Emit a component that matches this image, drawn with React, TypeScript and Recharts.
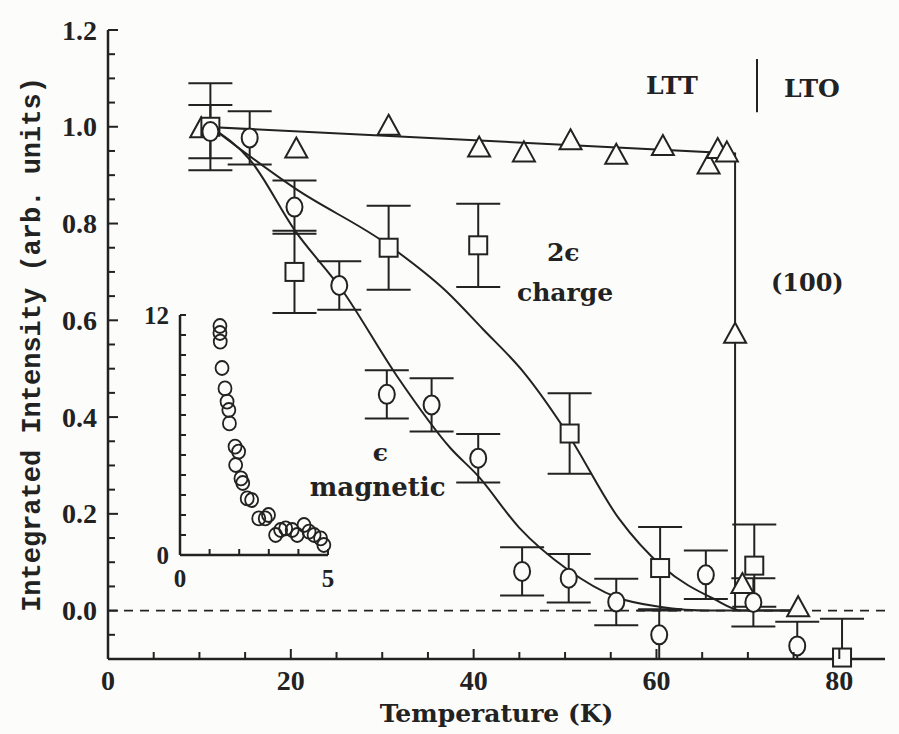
import React from 'react'
import {
  ComposedChart,
  ScatterChart,
  Scatter,
  Line,
  XAxis,
  YAxis,
  ErrorBar,
  ReferenceLine,
  ReferenceDot,
} from 'recharts'

const INK = '#222'
const BG = '#fcfcfb'

// (100) lattice peak - triangles
const latticeT = [10.2, 20.6, 30.7, 40.6, 45.5, 50.6, 55.6, 60.7, 65.7, 66.7, 67.7, 68.6, 69.4, 75.5]
const latticeI = [0.995, 0.953, 1.0, 0.955, 0.945, 0.97, 0.94, 0.958, 0.92, 0.952, 0.945, 0.57, 0.053, 0.005]

// 2e charge peak - squares
const chargeT = [11.2, 20.4, 30.7, 40.5, 50.5, 60.4, 70.7, 80.3]
const chargeI = [1.0, 0.7, 0.75, 0.755, 0.366, 0.088, 0.093, -0.097]
const chargeLo = [0.09, 0.085, 0.087, 0.086, 0.083, 0.085, 0.085, 0.003]
const chargeHi = [0.09, 0.085, 0.087, 0.086, 0.083, 0.085, 0.085, 0.08]

// e magnetic peak - circles
const magT = [11.2, 15.5, 20.4, 25.3, 30.5, 35.4, 40.5, 45.3, 50.4, 55.6, 60.3, 65.4, 70.6, 75.4]
const magI = [0.99, 0.977, 0.834, 0.672, 0.447, 0.425, 0.315, 0.081, 0.067, 0.018, -0.05, 0.074, 0.017, -0.073]
const magLo = [0.055, 0.055, 0.055, 0.05, 0.05, 0.055, 0.05, 0.05, 0.05, 0.048, 0.05, 0.05, 0.05, 0.027]
const magHi = [0.055, 0.055, 0.055, 0.05, 0.05, 0.055, 0.05, 0.05, 0.05, 0.048, 0.05, 0.05, 0.05, 0.05]

// fitted curves
const latticeFitT = [10.5, 68.6, 68.6]
const latticeFitI = [1.0, 0.945, 0.0]
const chargeFitT = [11.2, 20.5, 30.7, 37.0, 41.0, 45.5, 50.3, 55.9, 60.7, 66.2, 69.4, 75]
const chargeFitI = [1.0, 0.872, 0.755, 0.66, 0.582, 0.492, 0.365, 0.19, 0.09, 0.025, 0.0, 0.0]
const magFitT = [11.2, 15.6, 20.4, 25.7, 31.6, 37.5, 40.5, 45.0, 50.2, 55.7, 60.3, 66, 75]
const magFitI = [1.0, 0.93, 0.787, 0.66, 0.485, 0.335, 0.278, 0.171, 0.086, 0.027, 0.008, 0.0, 0.0]

// inset
const insetU = [1.35, 1.35, 1.36, 1.42, 1.52, 1.59, 1.65, 1.67, 1.86, 1.98, 1.88, 2.06, 2.12, 2.27, 2.42, 2.66, 2.88, 2.99, 3.23, 3.4, 3.57, 3.79, 3.96, 4.19, 4.36, 4.53, 4.75, 4.86]
const insetV = [11.45, 11.1, 10.67, 9.35, 8.33, 7.67, 7.25, 6.58, 5.42, 5.17, 4.5, 3.83, 3.6, 2.83, 2.75, 1.83, 1.83, 2.0, 1.0, 1.25, 1.33, 1.25, 1.0, 1.5, 1.17, 1.0, 0.83, 0.5]

const xTicks = [0, 5, 10, 15, 20, 25, 30, 35, 40, 45, 50, 55, 60, 65, 70, 75, 80]
const yTicks = [-0.1, -0.05, 0, 0.05, 0.1, 0.15, 0.2, 0.25, 0.3, 0.35, 0.4, 0.45, 0.5, 0.55, 0.6, 0.65, 0.7, 0.75, 0.8, 0.85, 0.9, 0.95, 1.0, 1.05, 1.1, 1.15, 1.2]
const insetXTicks = [0, 1, 2, 3, 4, 5]
const insetYTicks = [0, 1, 2, 3, 4, 5, 6, 7, 8, 9, 10, 11, 12]

const zip = (xs: number[], ys: number[]) => xs.map((x, i) => ({ x, y: ys[i] }))
const latticeRows = zip(latticeT, latticeI)
const chargeRows = chargeT.map((x, i) => ({ x, y: chargeI[i], err: [chargeLo[i], chargeHi[i]] }))
const magRows = magT.map((x, i) => ({ x, y: magI[i], err: [magLo[i], magHi[i]] }))
const insetRows = zip(insetU, insetV)

const tickFont = { fontFamily: 'Liberation Serif', fontWeight: 'bold' as const, fill: INK }
const noteFont = { fontFamily: 'DejaVu Serif', fontWeight: 'bold' as const, fill: INK }

const isMajorY = (v: number) => Math.abs(v * 5 - Math.round(v * 5)) < 1e-6

function Tick(props: any) {
  const { x, y, payload, side, inset } = props
  const v = payload.value
  const major = side === 'bottom' || side === 'top' ? v % 20 === 0 : isMajorY(v)
  const len = inset ? 6 : major ? 10 : 7
  let line = null
  let label = null
  if (side === 'bottom') {
    line = <line x1={x} y1={y} x2={x} y2={y - len} stroke={INK} strokeWidth={2} />
    const show = inset ? v === 0 || v === 5 : major
    if (show)
      label = (
        <text x={x} y={y + (inset ? 23 : 21)} textAnchor="middle" dominantBaseline="central" fontSize={inset ? 25 : 28} {...tickFont}>
          {v}
        </text>
      )
  } else if (side === 'top') {
    line = <line x1={x} y1={y} x2={x} y2={y + len} stroke={INK} strokeWidth={2} />
  } else if (side === 'left') {
    line = <line x1={x} y1={y} x2={x + len} y2={y} stroke={INK} strokeWidth={2} />
    const show = inset ? v === 0 || v === 12 : major
    if (show)
      label = (
        <text x={x - 11} y={y} textAnchor="end" dominantBaseline="central" fontSize={inset ? 25 : 28} {...tickFont}>
          {inset ? v : v.toFixed(1)}
        </text>
      )
  } else {
    line = <line x1={x} y1={y} x2={x - len} y2={y} stroke={INK} strokeWidth={2} />
  }
  return (
    <g>
      {line}
      {label}
    </g>
  )
}

const NoMark = () => null
const TriangleMark = (p: any) =>
  p.cx == null ? null : (
    <path
      d={`M${p.cx},${p.cy - 12} L${p.cx + 11},${p.cy + 8} L${p.cx - 11},${p.cy + 8} Z`}
      fill={BG}
      stroke={INK}
      strokeWidth={2}
    />
  )
const SquareMark = (p: any) =>
  p.cx == null ? null : (
    <rect x={p.cx - 9} y={p.cy - 9} width={18} height={18} fill={BG} stroke={INK} strokeWidth={2} />
  )
const CircleMark = (p: any) =>
  p.cx == null ? null : <ellipse cx={p.cx} cy={p.cy} rx={8} ry={9.5} fill={BG} stroke={INK} strokeWidth={2} />
const SmallCircle = (p: any) =>
  p.cx == null ? null : <ellipse cx={p.cx} cy={p.cy} rx={6.5} ry={7} fill="none" stroke={INK} strokeWidth={1.8} />

export default function App() {
  return (
    <div style={{ position: 'absolute', left: 0, top: 0, width: 899, height: 734, background: BG }}>
      <ComposedChart width={899} height={734} margin={{ top: 30, right: 14, bottom: 30, left: 48 }}>
        <XAxis
          dataKey="x"
          type="number"
          domain={[0, 85]}
          ticks={xTicks}
          interval={0}
          height={45}
          tickSize={0}
          tickMargin={0}
          tickLine={false}
          axisLine={{ stroke: INK, strokeWidth: 2.5 }}
          tick={(p: any) => <Tick {...p} side="bottom" />}
          label={{ value: 'Temperature (K)', position: 'bottom', offset: 0, fontSize: 25, ...noteFont }}
        />
        <XAxis
          xAxisId="top"
          orientation="top"
          type="number"
          domain={[0, 85]}
          ticks={xTicks}
          interval={0}
          height={0}
          tickSize={0}
          tickMargin={0}
          tickLine={false}
          axisLine={{ stroke: INK, strokeWidth: 2.5 }}
          tick={(p: any) => <Tick {...p} side="top" />}
        />
        <YAxis
          dataKey="y"
          type="number"
          domain={[-0.1, 1.2]}
          ticks={yTicks}
          interval={0}
          width={60}
          tickSize={0}
          tickMargin={0}
          tickLine={false}
          axisLine={{ stroke: INK, strokeWidth: 2.5 }}
          tick={(p: any) => <Tick {...p} side="left" />}
          label={{
            value: 'Integrated Intensity (arb. units)',
            angle: -90,
            position: 'insideLeft',
            offset: -18,
            style: { textAnchor: 'middle' },
            fontFamily: 'Liberation Mono',
            fontWeight: 'bold',
            fontSize: 27,
            fill: INK,
          }}
        />
        <YAxis
          yAxisId="right"
          orientation="right"
          type="number"
          domain={[-0.1, 1.2]}
          ticks={yTicks}
          interval={0}
          width={0}
          tickSize={0}
          tickMargin={0}
          tickLine={false}
          axisLine={{ stroke: INK, strokeWidth: 2.5 }}
          tick={(p: any) => <Tick {...p} side="right" />}
        />
        <ReferenceLine y={0} stroke={INK} strokeWidth={1.8} strokeDasharray="9 7" />
        <ReferenceLine
          segment={[
            { x: 71, y: 1.14 },
            { x: 71, y: 1.03 },
          ]}
          stroke={INK}
          strokeWidth={2}
        />

        {/* error bars first, markers on top of them */}
        <Scatter data={chargeRows} shape={NoMark} isAnimationActive={false}>
          <ErrorBar dataKey="err" direction="y" width={22} stroke={INK} strokeWidth={2} />
        </Scatter>
        <Scatter data={magRows} shape={NoMark} isAnimationActive={false}>
          <ErrorBar dataKey="err" direction="y" width={22} stroke={INK} strokeWidth={2} />
        </Scatter>
        <Scatter data={latticeRows} shape={TriangleMark} isAnimationActive={false} />
        <Scatter data={chargeRows} shape={SquareMark} isAnimationActive={false} />
        <Scatter data={magRows} shape={CircleMark} isAnimationActive={false} />

        <Line data={zip(latticeFitT, latticeFitI)} dataKey="y" type="linear" stroke={INK} strokeWidth={2} dot={false} isAnimationActive={false} />
        <Line data={zip(chargeFitT, chargeFitI)} dataKey="y" type="monotone" stroke={INK} strokeWidth={2} dot={false} isAnimationActive={false} />
        <Line data={zip(magFitT, magFitI)} dataKey="y" type="monotone" stroke={INK} strokeWidth={2} dot={false} isAnimationActive={false} />

        <ReferenceDot x={61.7} y={1.086} r={0} label={{ value: 'LTT', position: 'center', fontSize: 25, ...noteFont }} />
        <ReferenceDot x={77.0} y={1.08} r={0} label={{ value: 'LTO', position: 'center', fontSize: 25, ...noteFont }} />
        <ReferenceDot x={76.5} y={0.679} r={0} label={{ value: '(100)', position: 'center', fontSize: 24, ...noteFont }} />
        <ReferenceDot x={49.8} y={0.741} r={0} label={{ value: '2ϵ', position: 'center', fontSize: 25, ...noteFont }} />
        <ReferenceDot x={50.0} y={0.658} r={0} label={{ value: 'charge', position: 'center', fontSize: 25, ...noteFont }} />
        <ReferenceDot x={29.8} y={0.328} r={0} label={{ value: 'ϵ', position: 'center', fontSize: 25, ...noteFont }} />
        <ReferenceDot x={29.5} y={0.255} r={0} label={{ value: 'magnetic', position: 'center', fontSize: 26, ...noteFont }} />
      </ComposedChart>

      <div style={{ position: 'absolute', left: 120, top: 290 }}>
        <ScatterChart width={230} height={320} margin={{ top: 25, right: 22, bottom: 0, left: 30 }}>
          <XAxis
            dataKey="x"
            type="number"
            domain={[0, 5]}
            ticks={insetXTicks}
            interval={0}
            height={55}
            tickSize={0}
            tickMargin={0}
            tickLine={false}
            axisLine={{ stroke: INK, strokeWidth: 2.5 }}
            tick={(p: any) => <Tick {...p} side="bottom" inset />}
          />
          <YAxis
            dataKey="y"
            type="number"
            domain={[0, 12]}
            ticks={insetYTicks}
            interval={0}
            width={30}
            tickSize={0}
            tickMargin={0}
            tickLine={false}
            axisLine={{ stroke: INK, strokeWidth: 2.5 }}
            tick={(p: any) => <Tick {...p} side="left" inset />}
          />
          <Scatter data={insetRows} shape={SmallCircle} isAnimationActive={false} />
        </ScatterChart>
      </div>
    </div>
  )
}
